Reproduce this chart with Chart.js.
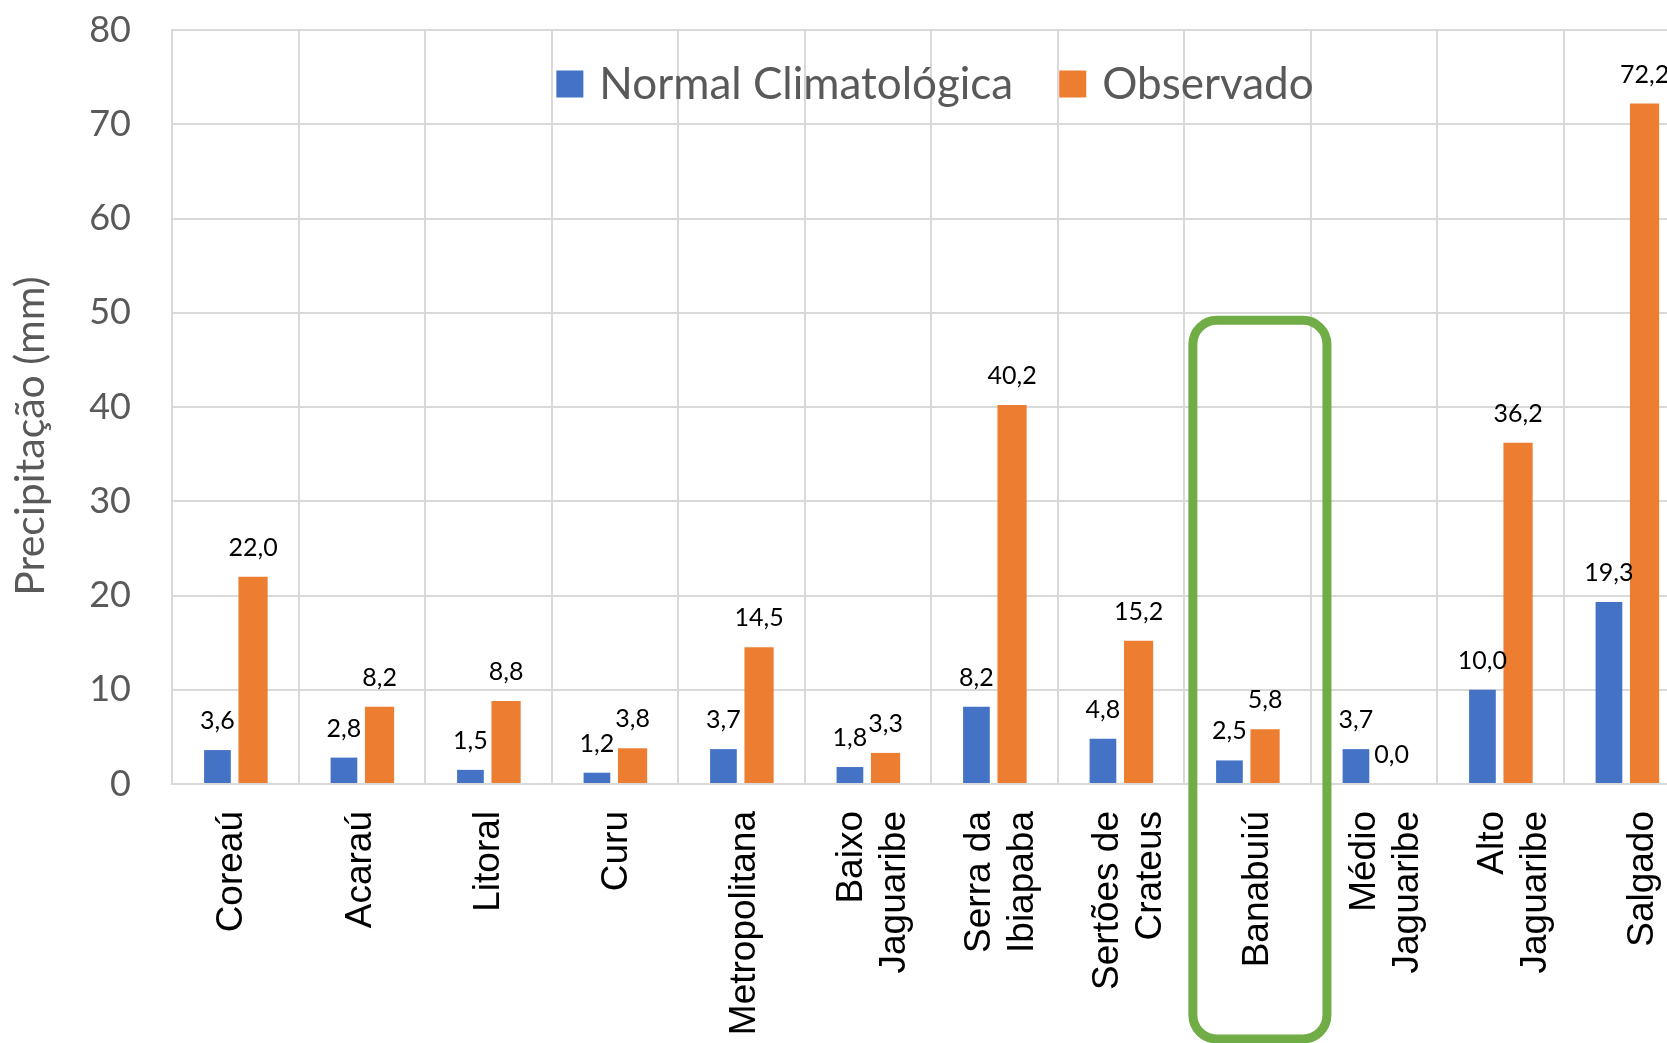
<!DOCTYPE html>
<html lang="pt">
<head>
<meta charset="utf-8">
<title>Precipitação por região</title>
<script src="https://cdn.jsdelivr.net/npm/chart.js@4.4.1/dist/chart.umd.min.js"></script>
<style>
  html, body { margin: 0; padding: 0; overflow: hidden; background: #fff; }
  #grafico { display: block; }
</style>
</head>
<body>
<canvas id="grafico" width="1690" height="1043"></canvas>
<script>
const regioes = [
  ["Coreaú"], ["Acaraú"], ["Litoral"], ["Curu"], ["Metropolitana"],
  ["Baixo", "Jaguaribe"], ["Serra da", "Ibiapaba"], ["Sertões de", "Crateus"],
  ["Banabuiú"], ["Médio", "Jaguaribe"], ["Alto", "Jaguaribe"], ["Salgado"]
];
const normal = [3.6, 2.8, 1.5, 1.2, 3.7, 1.8, 8.2, 4.8, 2.5, 3.7, 10.0, 19.3];
const observado = [22.0, 8.2, 8.8, 3.8, 14.5, 3.3, 40.2, 15.2, 5.8, 0.0, 36.2, 72.2];
const nomesSeries = ["Normal Climatológica", "Observado"];
const tituloY = "Precipitação (mm)";
const eixoY = { min: 0, max: 80, passo: 10 };
const regiaoDestaque = 8; // Banabuiú

const cinzaGrade = "#d9d9d9";
const cinzaTexto = "#595959";

function formatar(v) {
  return v.toFixed(1).replace(".", ",");
}

// rótulos de valor em cima das barras
const rotulosValores = {
  id: "rotulosValores",
  afterDatasetsDraw(chart) {
    const ctx = chart.ctx;
    ctx.save();
    ctx.font = "25px Lato";
    ctx.fillStyle = "#000";
    ctx.textAlign = "center";
    ctx.textBaseline = "alphabetic";
    chart.data.datasets.forEach((ds, i) => {
      chart.getDatasetMeta(i).data.forEach((barra, j) => {
        ctx.fillText(formatar(ds.data[j]), barra.x, barra.y - 21);
      });
    });
    ctx.restore();
  }
};

// legenda dentro da área do gráfico, título do eixo y, rótulos do eixo x e o destaque verde
const extras = {
  id: "extras",
  afterDraw(chart) {
    const ctx = chart.ctx;
    const area = chart.chartArea;
    const x = chart.scales.x;
    const y = chart.scales.y;
    ctx.save();

    // legenda
    ctx.font = "44px Lato";
    ctx.textBaseline = "middle";
    ctx.textAlign = "left";
    const quad = 27, gap = 16, entre = 46;
    const larguras = chart.data.datasets.map(ds => ctx.measureText(ds.label).width);
    let total = 0;
    larguras.forEach((w, i) => { total += quad + gap + w + (i > 0 ? entre : 0); });
    let lx = (area.left + area.right) / 2 + 4 - total / 2;
    const ly = 84;
    chart.data.datasets.forEach((ds, i) => {
      ctx.fillStyle = ds.backgroundColor;
      ctx.fillRect(lx, ly - quad / 2, quad, quad);
      ctx.fillStyle = cinzaTexto;
      ctx.fillText(ds.label, lx + quad + gap, ly + 1);
      lx += quad + gap + larguras[i] + entre;
    });

    // título do eixo y (um pouco abaixo do meio, como no original)
    ctx.save();
    ctx.font = "41px Lato";
    ctx.fillStyle = cinzaTexto;
    ctx.textAlign = "center";
    ctx.textBaseline = "middle";
    ctx.translate(31, (area.top + area.bottom) / 2 + 29);
    ctx.rotate(-Math.PI / 2);
    ctx.fillText(tituloY, 0, 0);
    ctx.restore();

    // rótulos do eixo x (verticais)
    ctx.font = "37px 'Liberation Sans', Arial";
    ctx.fillStyle = "#000";
    ctx.textAlign = "right";
    ctx.textBaseline = "middle";
    const alturaLinha = 43;
    regioes.forEach((linhas, i) => {
      const px = x.getPixelForValue(i) - 3 + 1.7 * i;
      ctx.save();
      ctx.translate(px, area.bottom + 27);
      ctx.rotate(-Math.PI / 2);
      linhas.forEach((t, k) => {
        ctx.fillText(t, 0, (k - (linhas.length - 1) / 2) * alturaLinha);
      });
      ctx.restore();
    });

    // retângulo verde em volta de Banabuiú
    const larguraCat = x.getPixelForValue(1) - x.getPixelForValue(0);
    const cx = x.getPixelForValue(regiaoDestaque);
    const esq = cx - 0.43 * larguraCat;
    const dir = cx + 0.63 * larguraCat;
    const topo = y.getPixelForValue(49.2);
    const base = chart.height - 4;
    ctx.strokeStyle = "#70ad47";
    ctx.lineWidth = 9;
    ctx.beginPath();
    ctx.roundRect(esq, topo, dir - esq, base - topo, 24);
    ctx.stroke();

    ctx.restore();
  }
};

new Chart(document.getElementById("grafico"), {
  type: "bar",
  data: {
    labels: regioes.map(r => r.join(" ")),
    datasets: [
      {
        label: nomesSeries[0],
        data: normal,
        backgroundColor: "#4472c4",
        barPercentage: 0.75,
        categoryPercentage: 0.563
      },
      {
        label: nomesSeries[1],
        data: observado,
        backgroundColor: "#ed7d31",
        barPercentage: 0.82,
        categoryPercentage: 0.563
      }
    ]
  },
  options: {
    responsive: false,
    animation: false,
    layout: { padding: { top: 30, right: 0, bottom: 0, left: 0 } },
    plugins: {
      legend: { display: false },
      tooltip: { enabled: false }
    },
    scales: {
      x: {
        ticks: { display: false },
        grid: { color: cinzaGrade, lineWidth: 2, drawTicks: false, offset: true },
        border: { color: cinzaGrade, width: 2 },
        afterFit(s) {
          s.height = 259;
          s.paddingLeft = 0;
          s.paddingRight = 0;
        }
      },
      y: {
        min: eixoY.min,
        max: eixoY.max,
        ticks: {
          stepSize: eixoY.passo,
          padding: 41,
          color: cinzaTexto,
          font: { family: "Lato", size: 36 }
        },
        grid: { color: cinzaGrade, lineWidth: 2, drawTicks: false },
        border: { color: cinzaGrade, width: 2 },
        afterFit(s) {
          s.width = 172;
          s.paddingTop = 0;
          s.paddingBottom = 0;
        }
      }
    }
  },
  plugins: [rotulosValores, extras]
});
</script>
</body>
</html>
